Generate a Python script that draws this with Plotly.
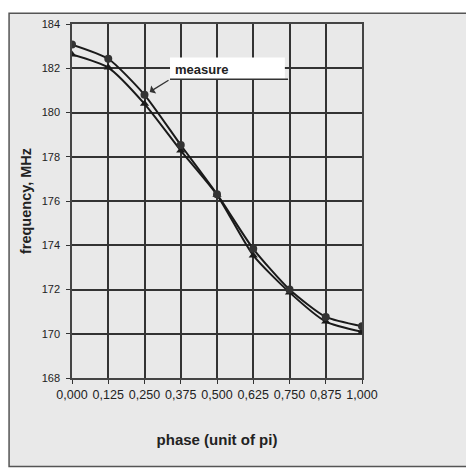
import plotly.graph_objects as go

phase = [0.0, 0.125, 0.25, 0.375, 0.5, 0.625, 0.75, 0.875, 1.0]
tick_labels = ["0,000", "0,125", "0,250", "0,375", "0,500", "0,625", "0,750", "0,875", "1,000"]
freq_measure = [183.07, 182.43, 180.80, 178.53, 176.31, 173.84, 172.00, 170.76, 170.34]
freq_calc = [182.62, 182.03, 180.39, 178.28, 176.28, 173.54, 171.87, 170.55, 170.09]
y_ticks = [168, 170, 172, 174, 176, 178, 180, 182, 184]

fig = go.Figure()
fig.add_trace(go.Scatter(
    x=phase, y=freq_calc, mode="lines+markers",
    line=dict(color="#1a1a1a", width=2, shape="spline", smoothing=0.6),
    marker=dict(symbol="triangle-up", size=8, color="#1a1a1a"),
    showlegend=False))
fig.add_trace(go.Scatter(
    x=phase, y=freq_measure, mode="lines+markers",
    line=dict(color="#1a1a1a", width=2, shape="spline", smoothing=0.6),
    marker=dict(symbol="circle", size=8, color="#333333"),
    showlegend=False))

# outer chart frame
fig.add_shape(type="rect", xref="paper", yref="paper",
              x0=-0.217, x1=1.372, y0=-0.25, y1=1.0306,
              fillcolor="#e9e9e9", line=dict(color="#555555", width=1.5), layer="below")
# callout box
fig.add_shape(type="rect", xref="x", yref="y", x0=0.338, x1=0.734, y0=181.5, y1=182.49,
              fillcolor="white", line=dict(width=0), layer="between")
fig.add_shape(type="line", xref="x", yref="y", x0=0.338, x1=0.745, y0=181.5, y1=181.5,
              line=dict(color="#333333", width=1.5), layer="between")

fig.add_annotation(x=0.448, y=181.96, xref="x", yref="y", text="<b>measure</b>",
                   showarrow=False, font=dict(family="Liberation Sans, Arial", size=13, color="#222222"))
fig.add_annotation(x=0.268, y=180.93, xref="x", yref="y", axref="x", ayref="y",
                   ax=0.338, ay=181.5, text="", showarrow=True, arrowhead=1, arrowsize=1.2,
                   arrowwidth=1.3, arrowcolor="#333333")

fig.update_layout(
    width=466, height=466,
    margin=dict(l=64, r=112, t=10, b=96),
    paper_bgcolor="white", plot_bgcolor="white",
    font=dict(family="Liberation Sans, Arial", color="#222222"),
)
fig.update_xaxes(
    range=[0, 1], tickvals=phase, ticktext=tick_labels, tickfont=dict(size=12.5),
    showgrid=True, gridcolor="#333333", gridwidth=1.5,
    showline=True, linecolor="#444444", linewidth=1.5, mirror=True,
    ticks="outside", ticklen=4, tickcolor="#333333", zeroline=False,
    title=dict(text="<b>phase (unit of pi)</b>", font=dict(size=15), standoff=34))
fig.update_yaxes(
    range=[168, 184], tickvals=y_ticks, tickfont=dict(size=11),
    showgrid=True, gridcolor="#333333", gridwidth=1.5,
    showline=True, linecolor="#444444", linewidth=1.5, mirror=True,
    ticks="outside", ticklen=4, tickcolor="#333333", zeroline=False,
    ticklabelstandoff=4,
    title=dict(text="<b>frequency, MHz</b>", font=dict(size=14.5), standoff=7))

fig.write_html("out.html")
